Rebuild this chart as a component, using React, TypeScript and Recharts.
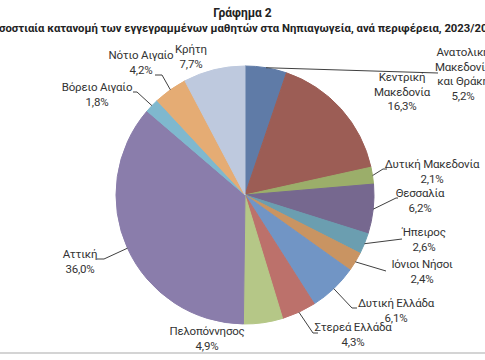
import { Cell, Pie, PieChart } from 'recharts'

const regions = [
  'Ανατολική Μακεδονία και Θράκη',
  'Κεντρική Μακεδονία',
  'Δυτική Μακεδονία',
  'Θεσσαλία',
  'Ήπειρος',
  'Ιόνιοι Νήσοι',
  'Δυτική Ελλάδα',
  'Στερεά Ελλάδα',
  'Πελοπόννησος',
  'Αττική',
  'Βόρειο Αιγαίο',
  'Νότιο Αιγαίο',
  'Κρήτη',
]

const shares = [5.2, 16.3, 2.1, 6.2, 2.6, 2.4, 6.1, 4.3, 4.9, 36.0, 1.8, 4.2, 7.7]

// how each label is broken into lines
const labelText = [
  ['Ανατολική', 'Μακεδονία', 'και Θράκη'],
  ['Κεντρική', 'Μακεδονία'],
  ['Δυτική Μακεδονία'],
  ['Θεσσαλία'],
  ['Ήπειρος'],
  ['Ιόνιοι Νήσοι'],
  ['Δυτική Ελλάδα'],
  ['Στερεά Ελλάδα'],
  ['Πελοπόννησος'],
  ['Αττική'],
  ['Βόρειο Αιγαίο'],
  ['Νότιο Αιγαίο'],
  ['Κρήτη'],
]

const colors = [
  '#5f7ba7', '#9c5d55', '#9bae6a', '#76688f', '#6b9eb0', '#c99462', '#7195c5',
  '#bc716b', '#b5c787', '#8a7dab', '#7fb8ce', '#e5ac74', '#bec9de',
]

// label placement relative to the pie centre (manually placed, like the original)
const labelLayout: { dx: number; dy: number; leader: [number, number][] }[] = [
  { dx: 218, dy: -139, leader: [[193, -122]] },
  { dx: 157, dy: -114, leader: [] },
  { dx: 187, dy: -27, leader: [[138, -26], [142, -26]] },
  { dx: 175, dy: 2, leader: [[151, 3], [153, 3]] },
  { dx: 179, dy: 41, leader: [[157, 44]] },
  { dx: 177, dy: 73, leader: [[141, 76]] },
  { dx: 151, dy: 112, leader: [[107, 113], [112, 113]] },
  { dx: 108, dy: 136, leader: [[68, 138], [73, 138]] },
  { dx: -38, dy: 140, leader: [] },
  { dx: -165, dy: 63, leader: [[-141, 64], [-148, 64]] },
  { dx: -148, dy: -104, leader: [[-108, -103], [-112, -103]] },
  { dx: -104, dy: -136, leader: [[-83, -120], [-90, -120]] },
  { dx: -54, dy: -142, leader: [] },
]

const data = regions.map((name, i) => ({ name, value: shares[i] }))

const FONT = "Roboto, 'Liberation Sans', sans-serif"
const LINE_H = 14.5
const RAD = Math.PI / 180

function fmt(v: number) {
  return v.toFixed(1).replace('.', ',') + '%'
}

function renderLabel(props: any) {
  const { cx, cy, midAngle, outerRadius, index, value } = props
  const layout = labelLayout[index]
  const ex = cx + outerRadius * Math.cos(-midAngle * RAD)
  const ey = cy + outerRadius * Math.sin(-midAngle * RAD)
  const lines = [...labelText[index], fmt(value)]
  const pts = [[ex, ey], ...layout.leader.map(([x, y]) => [cx + x, cy + y])]
  const tx = cx + layout.dx
  return (
    <g key={`lbl-${index}`}>
      {layout.leader.length > 0 && (
        <polyline
          points={pts.map((p) => p.join(',')).join(' ')}
          fill="none"
          stroke="#404040"
          strokeWidth={1}
        />
      )}
      {lines.map((l, j) => (
        <text
          key={j}
          x={tx}
          y={cy + layout.dy + j * LINE_H}
          textAnchor="middle"
          fill="#333"
          fontSize={11.5}
          letterSpacing={-0.2}
          fontFamily={FONT}
        >
          {l}
        </text>
      ))}
    </g>
  )
}

export default function App() {
  return (
    <div style={{ position: 'absolute', left: 0, top: 0, width: 485, height: 360, background: '#fff', overflow: 'hidden' }}>
      <div
        style={{
          position: 'absolute',
          left: 0,
          top: 6,
          width: 485,
          display: 'flex',
          flexDirection: 'column',
          alignItems: 'center',
          fontFamily: FONT,
          fontWeight: 'bold',
          fontSize: 11.3,
          lineHeight: '15px',
          color: '#222',
          whiteSpace: 'nowrap',
        }}
      >
        <div style={{ fontSize: 12 }}>Γράφημα 2</div>
        <div>Ποσοστιαία κατανομή των εγγεγραμμένων μαθητών στα Νηπιαγωγεία, ανά περιφέρεια, 2023/2024</div>
      </div>
      <div style={{ position: 'absolute', left: 0, top: 0 }}>
        <PieChart width={485} height={360}>
          <Pie
            data={data}
            dataKey="value"
            nameKey="name"
            cx={240}
            cy={190}
            outerRadius={129}
            startAngle={90}
            endAngle={-270}
            label={renderLabel}
            labelLine={false}
            isAnimationActive={false}
          >
            {data.map((d, i) => (
              <Cell key={d.name} fill={colors[i]} stroke={colors[i]} />
            ))}
          </Pie>
        </PieChart>
      </div>
      <div style={{ position: 'absolute', left: 0, top: 352, width: 485, height: 2, background: '#d4d4d4' }} />
    </div>
  )
}
